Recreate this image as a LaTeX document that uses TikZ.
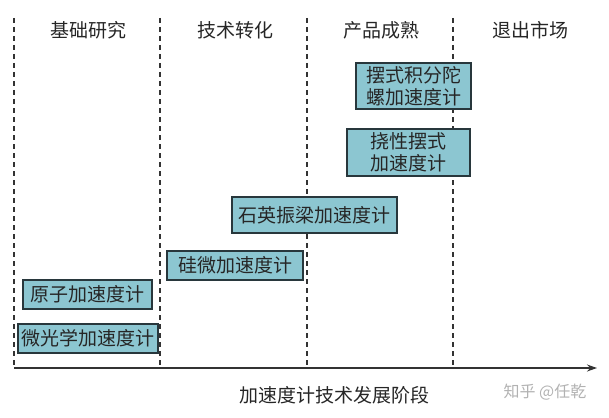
\documentclass[tikz,border=0pt]{standalone}
\usepackage{fontspec}
\newfontfamily\cjk{Noto Sans CJK SC}
\usepackage{tikz}
\usetikzlibrary{arrows.meta}
\definecolor{boxfill}{RGB}{140,198,209}
\definecolor{boxline}{RGB}{40,55,60}
\tikzset{
  stagebox/.style={draw=boxline,fill=boxfill,line width=1.1pt,inner sep=0pt,align=center,
    text=black!85,font=\cjk\fontsize{19}{22}\selectfont},
  phase/.style={font=\cjk\fontsize{19}{22}\selectfont,text=black!85},
  divide/.style={dash pattern=on 5pt off 4pt,line width=1.1pt,black!80}
}

\begin{document}
\begin{tikzpicture}[x=1pt,y=-1pt]
\useasboundingbox (0,0) rectangle (609,417);
% stage borders
\coordinate (T1) at (14,18);  \coordinate (A1) at (14,368);
\coordinate (T2) at (160,18); \coordinate (A2) at (160,368);
\coordinate (T3) at (307,18); \coordinate (A3) at (307,368);
\coordinate (T4) at (453,18); \coordinate (A4) at (453,368);
\coordinate (E) at (597,368);
\draw[divide] (T1)--(A1);
\draw[divide] (T2)--(A2);
\draw[divide] (T3)--(A3);
\draw[divide] (T4)--(A4);
\draw[line width=1.4pt,black!80,-{Stealth[length=10pt,width=7pt]}] (A1)--(E);

% stage titles
\node[phase] (S1) at (88,30) {基础研究};
\node[phase] (S2) at (235,30) {技术转化};
\node[phase] (S3) at (381,30) {产品成熟};
\node[phase] (S4) at (530,30) {退出市场};

% accelerometers
\node[stagebox,minimum width=115pt,minimum height=46pt] (P1) at (413.5,86) {摆式积分陀\\螺加速度计};
\node[stagebox,minimum width=123pt,minimum height=47pt] (P2) at (408.5,152.5) {挠性摆式\\加速度计};
\node[stagebox,minimum width=165pt,minimum height=36pt] (P3) at (314.5,215) {石英振梁加速度计};
\node[stagebox,minimum width=136pt,minimum height=29pt] (P4) at (235,265.5) {硅微加速度计};
\node[stagebox,minimum width=129pt,minimum height=29pt] (P5) at (87.5,294.5) {原子加速度计};
\node[stagebox,minimum width=140pt,minimum height=29pt] (P6) at (88,338.5) {微光学加速度计};

\node[phase] (L) at (334,395) {加速度计技术发展阶段};
\node[font=\cjk\fontsize{16}{18}\selectfont,text=black!30] (W) at (545,392) {知乎 @任乾};
\end{tikzpicture}
\end{document}
